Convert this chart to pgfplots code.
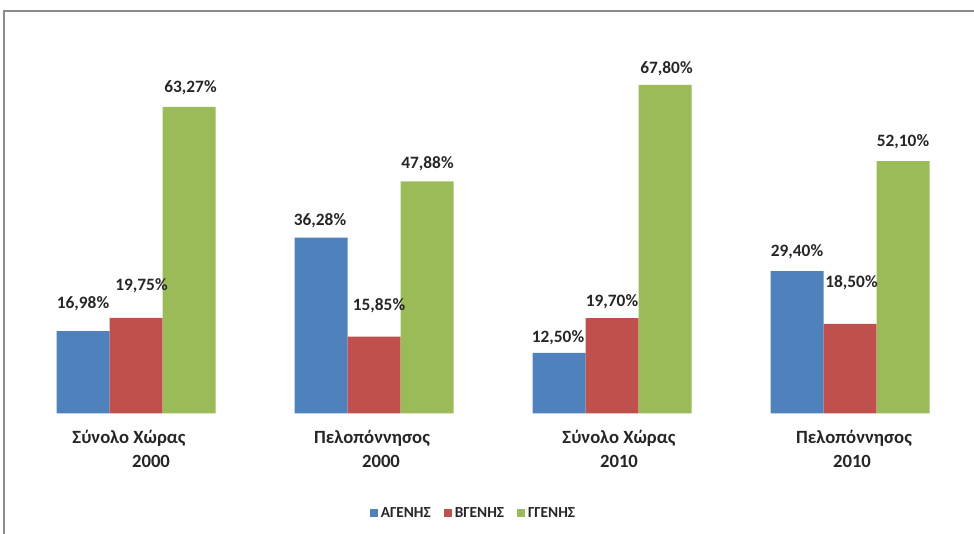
\documentclass[border=0pt]{standalone}
\usepackage{pgfplots}
\pgfplotsset{compat=1.18}
\usepackage{pgfplotstable}
\usepackage{fontspec}
\setmainfont{Carlito}

\definecolor{cA}{HTML}{4F81BD}
\definecolor{cB}{HTML}{C0504D}
\definecolor{cC}{HTML}{9BBB59}
\definecolor{frame}{HTML}{8C8C8C}

% x, value, label shift (dx, dy in px from bar top)
\pgfplotstableread{
x y dx dy
0 16.98 0 28
1 36.28 -1 17
2 12.50 -1 15
3 29.40 0 19
}\agenis
\pgfplotstableread{
x y dx dy
0 19.75 5.5 32
1 15.85 5 31
2 19.70 0 16
3 18.50 1.5 41
}\bgenis
\pgfplotstableread{
x y dx dy
0 63.27 1.5 19.5
1 47.88 0.5 18
2 67.80 1.5 16.5
3 52.10 0 19
}\ggenis

\begin{document}
\begin{tikzpicture}
\path[use as bounding box] (0,0) rectangle (730.5pt,400.5pt);
\begin{axis}[
    at={(12.75pt,90.375pt)}, anchor=south west,
    x=178.5pt, y=3.634pt,
    xmin=-0.5, xmax=3.5, ymin=0, ymax=75,
    ybar=0pt, bar width=39.75pt,
    axis line style={draw=none},
    tick style={draw=none},
    ytick=\empty,
    xtick={0,1,2,3},
    xticklabels={
        {Σύνολο Χώρας\hspace*{10.5pt}\\\hspace*{22.5pt}2000},
        {Πελοπόννησος\hspace*{3pt}\\\hspace*{10.5pt}2000},
        {\hspace*{10.5pt}Σύνολο Χώρας\\\hspace*{10.5pt}2010},
        {\hspace*{6pt}Πελοπόννησος\\\hspace*{3pt}2010}},
    xticklabel style={align=center, font=\bfseries\fontsize{14}{18}\selectfont, text=black!85, yshift=-5pt},
    clip=false,
    nodes near coords={\pgfmathprintnumber[fixed,fixed zerofill,precision=2,use comma,assume math mode=true]{\pgfplotspointmeta}\%},
    visualization depends on={\thisrow{dx}\as\dx},
    visualization depends on={\thisrow{dy}\as\dy},
    nodes near coords style={anchor=center, inner sep=0pt, xshift=\dx*0.75pt, yshift=\dy*0.75pt,
        font=\bfseries\fontsize{13}{15}\selectfont, text=black!85},
    legend style={at={(0.48,-0.274)}, anchor=center, draw=none, fill=none,
        legend columns=-1, font=\bfseries\fontsize{11.5}{12}\selectfont, text=black!85,
        /tikz/every even column/.append style={column sep=8pt},
        inner sep=0pt},
    legend image code/.code={\fill[#1] (0pt,-3pt) rectangle (6pt,3pt);},
]
\addplot[fill=cA, draw=none] table[x=x, y=y] {\agenis};
\addplot[fill=cB, draw=none] table[x=x, y=y] {\bgenis};
\addplot[fill=cC, draw=none] table[x=x, y=y] {\ggenis};
\legend{ΑΓΕΝΗΣ, ΒΓΕΝΗΣ, ΓΓΕΝΗΣ}
\end{axis}
\draw[frame, line width=1pt] (3pt,0pt) -- (3pt,392.25pt) -- (730.5pt,392.25pt);
\end{tikzpicture}
\end{document}
